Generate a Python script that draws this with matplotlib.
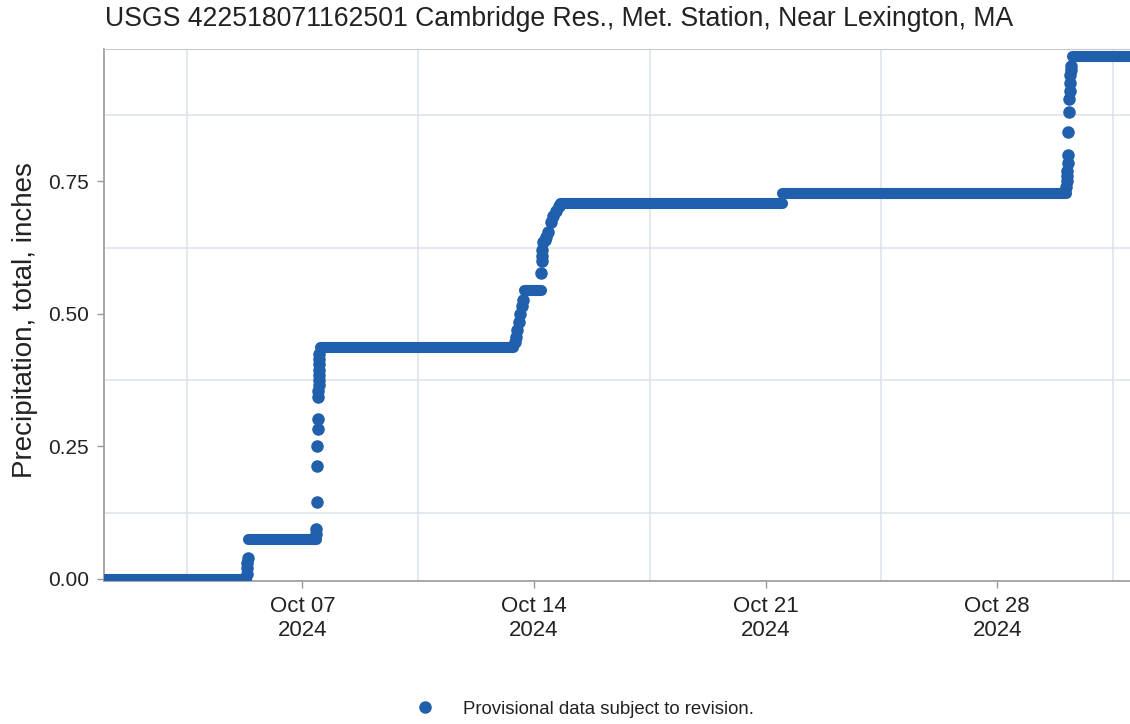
import pandas as pd
import matplotlib
matplotlib.use("Agg")
import matplotlib.pyplot as plt
import matplotlib.dates as mdates
from matplotlib.ticker import MultipleLocator, FixedLocator
from matplotlib.lines import Line2D

plt.rcParams['font.family'] = ['Liberation Sans', 'DejaVu Sans']

# Cumulative precipitation held flat between rain events (start, end, inches)
level_start = ["2024-10-01 00:00", "2024-10-05 08:45", "2024-10-07 12:30",
               "2024-10-13 17:00", "2024-10-14 19:00", "2024-10-21 12:15",
               "2024-10-30 06:00"]
level_end = ["2024-10-05 07:15", "2024-10-07 09:30", "2024-10-13 09:00",
             "2024-10-14 05:00", "2024-10-21 12:00", "2024-10-30 02:00",
             "2024-11-01 12:00"]
level_value = [0.0, 0.076, 0.437, 0.545, 0.710, 0.729, 0.986]

# Individual readings while the total was rising
rain_time = ["2024-10-05 07:30", "2024-10-05 07:45", "2024-10-05 08:00", "2024-10-05 08:15",
             "2024-10-07 09:45", "2024-10-07 10:00", "2024-10-07 10:15", "2024-10-07 10:30",
             "2024-10-07 10:45", "2024-10-07 11:00", "2024-10-07 11:15", "2024-10-07 11:30",
             "2024-10-07 11:35", "2024-10-07 11:40", "2024-10-07 11:45", "2024-10-07 11:50",
             "2024-10-07 11:55", "2024-10-07 12:00", "2024-10-07 12:05", "2024-10-07 12:10",
             "2024-10-13 10:00", "2024-10-13 11:00", "2024-10-13 12:00", "2024-10-13 13:00",
             "2024-10-13 14:00", "2024-10-13 15:00", "2024-10-13 16:00",
             "2024-10-14 05:15", "2024-10-14 05:30", "2024-10-14 05:45", "2024-10-14 06:00",
             "2024-10-14 06:15", "2024-10-14 08:00", "2024-10-14 09:00", "2024-10-14 10:00",
             "2024-10-14 12:00", "2024-10-14 14:00", "2024-10-14 16:00", "2024-10-14 18:00",
             "2024-10-30 02:15", "2024-10-30 02:30", "2024-10-30 02:45", "2024-10-30 03:00",
             "2024-10-30 03:15", "2024-10-30 03:30", "2024-10-30 03:45", "2024-10-30 04:00",
             "2024-10-30 04:15", "2024-10-30 04:30", "2024-10-30 04:45", "2024-10-30 05:00",
             "2024-10-30 05:15", "2024-10-30 05:30"]
rain_value = [0.01, 0.02, 0.03, 0.04,
              0.085, 0.095, 0.145, 0.213,
              0.251, 0.283, 0.302, 0.344,
              0.355, 0.365, 0.375, 0.385,
              0.395, 0.405, 0.415, 0.425,
              0.447, 0.457, 0.470, 0.485,
              0.500, 0.515, 0.527,
              0.578, 0.600, 0.610, 0.620,
              0.635, 0.640, 0.645, 0.654,
              0.673, 0.685, 0.695, 0.703,
              0.740, 0.750, 0.760, 0.770,
              0.785, 0.800, 0.843, 0.882,
              0.905, 0.920, 0.935, 0.950,
              0.960, 0.967]

tick_dates = ["2024-10-07", "2024-10-14", "2024-10-21", "2024-10-28"]
y_ticks = [0.0, 0.25, 0.5, 0.75]

blue = '#1f5fab'
grid_c = '#dfe4ec'

fig = plt.figure(figsize=(11.3, 7.24), dpi=100)
ax = fig.add_axes([104 / 1130, 143 / 724, 1042 / 1130, 532 / 724])

for s, e, v in zip(level_start, level_end, level_value):
    ax.plot(pd.to_datetime([s, e]), [v, v], color=blue, lw=8,
            solid_capstyle='round', zorder=3)
ax.plot(pd.to_datetime(rain_time), rain_value, 'o', color=blue, ms=8,
        mec=blue, zorder=3)

ax.set_xlim(pd.Timestamp("2024-10-01"), pd.Timestamp("2024-11-01 12:00"))
ax.set_ylim(-0.004, 1.0)

ax.xaxis.set_major_locator(FixedLocator(mdates.date2num(pd.to_datetime(tick_dates))))
ax.xaxis.set_major_formatter(mdates.DateFormatter('%b %d\n%Y'))
grid_x = pd.date_range("2024-10-03 12:00", "2024-11-01 12:00", freq="84h")
ax.xaxis.set_minor_locator(FixedLocator(mdates.date2num(grid_x)))
ax.yaxis.set_major_locator(FixedLocator(y_ticks))
ax.yaxis.set_minor_locator(MultipleLocator(0.125))
ax.yaxis.set_major_formatter(lambda v, p: f"{v:.2f}")

ax.grid(False)
ax.grid(which='minor', color=grid_c, lw=1.2)
ax.set_axisbelow(True)
ax.tick_params(which='minor', length=0)
ax.tick_params(which='major', length=5, width=1, color='#999999',
               labelsize=15, labelcolor='#222222', pad=6)
ax.tick_params(axis='x', which='major', labelsize=16)

for side in ['left', 'bottom']:
    ax.spines[side].set_color('#9a9a9a')
    ax.spines[side].set_linewidth(1.2)
ax.spines['top'].set_color('#c8ccd2')
ax.spines['right'].set_visible(False)

fig.text(105 / 1130, 1 - 19 / 724, "USGS 422518071162501 Cambridge Res., Met. Station, Near Lexington, MA",
         fontsize=19.2, color='#222222', ha='left', va='center')
fig.text(25 / 1130, 1 - 320 / 724, "Precipitation, total, inches", fontsize=20,
         color='#222222', rotation=90, ha='center', va='center')

handle = Line2D([], [], ls='none', marker='o', ms=8, color=blue)
fig.legend([handle], ["Provisional data subject to revision."], loc='center left',
           bbox_to_anchor=(416 / 1130, 1 - 709 / 724), frameon=False, fontsize=13.4,
           handlelength=1.0, handletextpad=1.5, borderpad=0, borderaxespad=0,
           labelcolor='#222222')

fig.savefig("out.png", dpi=100)
